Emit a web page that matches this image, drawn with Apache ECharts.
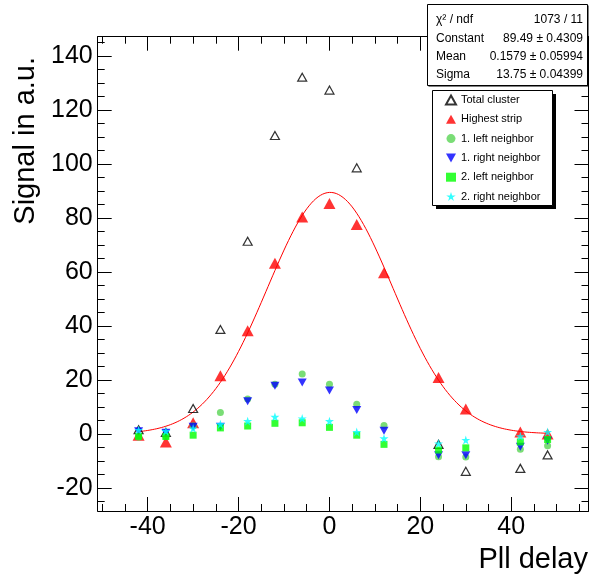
<!DOCTYPE html>
<html>
<head>
<meta charset="utf-8">
<script src="https://cdn.jsdelivr.net/npm/echarts@6/dist/echarts.min.js"></script>
<style>
html,body{margin:0;padding:0;background:#fff;}
#chart{width:590px;height:576px;}
</style>
</head>
<body>
<div id="chart"></div>
<script>
// ---- data ----
const delay = [-42, -36, -30, -24, -18, -12, -6, 0, 6, 12, 24, 30, 42, 48];
const totalCluster = [1.5, 0.5, 9.4, 38.7, 71.4, 110.6, 132.2, 127.4, 98.6, null, -3.9, -13.9, -12.8, -7.8];
const highestStrip = [-0.5, -3.0, 4.1, 21.5, 38.2, 63.2, 80.4, 85.4, 77.6, 59.7, 20.9, 9.2, 0.7, -0.1];
const leftNeighbor1 = [-1.3, -1.0, 3.0, 7.9, 12.9, 18.4, 22.2, 18.4, 11.0, 3.1, -8.5, -8.6, -5.7, -4.4];
const rightNeighbor1 = [1.0, 0.4, 2.6, 2.6, 12.1, 17.8, 19.0, 16.1, 8.8, 1.1, -7.9, -7.9, -4.8, -2.6];
const leftNeighbor2 = [-0.9, -1.0, -0.5, 2.2, 2.9, 3.9, 4.1, 2.4, -0.5, -3.9, -6.0, -5.2, -3.0, -2.1];
const rightNeighbor2 = [1.4, 1.0, 2.0, 3.6, 4.7, 6.3, 5.7, 4.7, 0.7, -1.7, -3.6, -2.3, -0.9, 0.7];
const seriesNames = ['Total cluster', 'Highest strip', '1. left neighbor', '1. right neighbor', '2. left neighbor', '2. right neighbor'];

// Gaussian fit parameters (from the stats box)
const fitConstant = 89.49, fitMean = 0.1579, fitSigma = 13.75;
const fitRange = [-42, 48];
const statsRows = [
  ['\u03c7\u00b2 / ndf', '1073 / 11'],
  ['Constant', '89.49 \u00b1 0.4309'],
  ['Mean', '0.1579 \u00b1 0.05994'],
  ['Sigma', '13.75 \u00b1 0.04399']
];

const xMajor = [-40, -20, 0, 20, 40];
const xMinor = [-50,-45,-35,-30,-25,-15,-10,-5,5,10,15,25,30,35,45,50,55];
const yMajor = [-20, 0, 20, 40, 60, 80, 100, 120, 140];
const yMinor = [-25,-15,-10,-5,5,10,15,25,30,35,45,50,55,65,70,75,85,90,95,105,110,115,125,130,135,145];
const xRange = [-51, 57];
const yRange = [-28.6, 147.2];

// ---- build ----
function pairs(ys){ const out=[]; ys.forEach((v,i)=>{ if(v!==null) out.push([delay[i], v]); }); return out; }
const fitData = [];
for (let x = fitRange[0]; x <= fitRange[1] + 1e-9; x += 0.5) {
  fitData.push([x, fitConstant * Math.exp(-0.5 * Math.pow((x - fitMean) / fitSigma, 2))]);
}

const FONT = '"Liberation Sans", Arial, Helvetica, sans-serif';
const STAR = 'path://M10,0 L12.23,6.93 L19.51,6.91 L13.61,11.17 L15.88,18.09 L10,13.8 L4.12,18.09 L6.39,11.17 L0.49,6.91 L7.77,6.93 Z';
const DOWNTRI = 'path://M0,0 L10,0 L5,9 Z';

const chart = echarts.init(document.getElementById('chart'), null, {renderer:'canvas'});
const lineStyle = {color:'#000', width:1};

function xAx(pos, major, showLine, showLabel){
  return {
    type:'value', position:pos, min:xRange[0], max:xRange[1],
    axisLine:{show:showLine, onZero:false, lineStyle},
    axisTick:{show:true, inside:true, length: major?14:7, customValues: major?xMajor:xMinor, lineStyle},
    axisLabel:{show:showLabel, customValues:xMajor, fontFamily:FONT, fontSize:25, color:'#000', margin:4},
    splitLine:{show:false}
  };
}
function yAx(pos, major, showLine, showLabel){
  return {
    type:'value', position:pos, min:yRange[0], max:yRange[1],
    axisLine:{show:showLine, onZero:false, lineStyle},
    axisTick:{show:true, inside:true, length: major?14:7, customValues: major?yMajor:yMinor, lineStyle},
    axisLabel:{show:showLabel, customValues:yMajor, fontFamily:FONT, fontSize:25, color:'#000', margin:5},
    splitLine:{show:false}
  };
}

const statsGraphics = [];
const sx = 427.5, sy = 4.5, sw = 160, sh = 81;
statsGraphics.push({type:'rect', shape:{x:sx+1, y:sy+1, width:sw, height:sh}, style:{fill:'#000'}, z:10});
statsGraphics.push({type:'rect', shape:{x:sx, y:sy, width:sw, height:sh}, style:{fill:'#fff', stroke:'#000', lineWidth:1}, z:11});
statsRows.forEach((r,i)=>{
  const cy = 20 + i*18.3;
  statsGraphics.push({type:'text', x:436, y:cy, z:12, style:{text:r[0], font:'12px '+FONT, fill:'#000', textAlign:'left', textVerticalAlign:'middle'}});
  statsGraphics.push({type:'text', x:583, y:cy, z:12, style:{text:r[1], font:'12px '+FONT, fill:'#000', textAlign:'right', textVerticalAlign:'middle'}});
});

const option = {
  animation:false,
  backgroundColor:'#fff',
  grid:{left:97.7, right:1.5, top:36.7, bottom:65, containLabel:false},
  xAxis:[xAx('bottom',true,true,true), xAx('bottom',false,false,false), xAx('top',true,true,false), xAx('top',false,false,false)],
  yAxis:[yAx('left',true,true,true), yAx('left',false,false,false), yAx('right',true,true,false), yAx('right',false,false,false)],
  legend:{
    data:seriesNames, orient:'vertical', left:445, top:94.5, padding:0,
    itemWidth:10, itemHeight:9, itemGap:8.3, selectedMode:false, z:20,
    textStyle:{fontFamily:FONT, fontSize:11, color:'#000', lineHeight:11}
  },
  graphic:[
    {type:'rect', shape:{x:436, y:94, width:120, height:115}, style:{fill:'#000'}, z:10},
    {type:'rect', shape:{x:432.5, y:90.5, width:120, height:115}, style:{fill:'#fff', stroke:'#000', lineWidth:1}, z:11},
    ...statsGraphics,
    {type:'text', x:26, y:57, rotation:Math.PI/2, z:12, style:{text:'Signal in a.u.', font:'29px '+FONT, fill:'#000', textAlign:'right', textVerticalAlign:'middle'}},
    {type:'text', x:588, y:560, z:12, style:{text:'Pll delay', font:'29px '+FONT, fill:'#000', textAlign:'right', textVerticalAlign:'middle'}}
  ],
  series:[
    {type:'line', name:'fit', data:fitData, showSymbol:false, symbol:'none', smooth:false, lineStyle:{color:'#ff0000', width:1}, silent:true, z:1},
    {type:'scatter', name:seriesNames[0], data:pairs(totalCluster), symbol:'triangle', symbolSize:[9,8], itemStyle:{color:'rgba(0,0,0,0)', borderColor:'#000', borderWidth:1.2}, z:2},
    {type:'scatter', name:seriesNames[1], data:pairs(highestStrip), symbol:'triangle', symbolSize:[12,11], itemStyle:{color:'#ff0000'}, z:2},
    {type:'scatter', name:seriesNames[2], data:pairs(leftNeighbor1), symbol:'circle', symbolSize:7, itemStyle:{color:'#59d454'}, z:2},
    {type:'scatter', name:seriesNames[3], data:pairs(rightNeighbor1), symbol:DOWNTRI, symbolSize:[9,8], itemStyle:{color:'#0000ff'}, z:2},
    {type:'scatter', name:seriesNames[4], data:pairs(leftNeighbor2), symbol:'rect', symbolSize:7, itemStyle:{color:'#00ff00'}, z:2},
    {type:'scatter', name:seriesNames[5], data:pairs(rightNeighbor2), symbol:STAR, symbolSize:9, itemStyle:{color:'#00ffff'}, z:2}
  ]
};
chart.setOption(option);
</script>
</body>
</html>
